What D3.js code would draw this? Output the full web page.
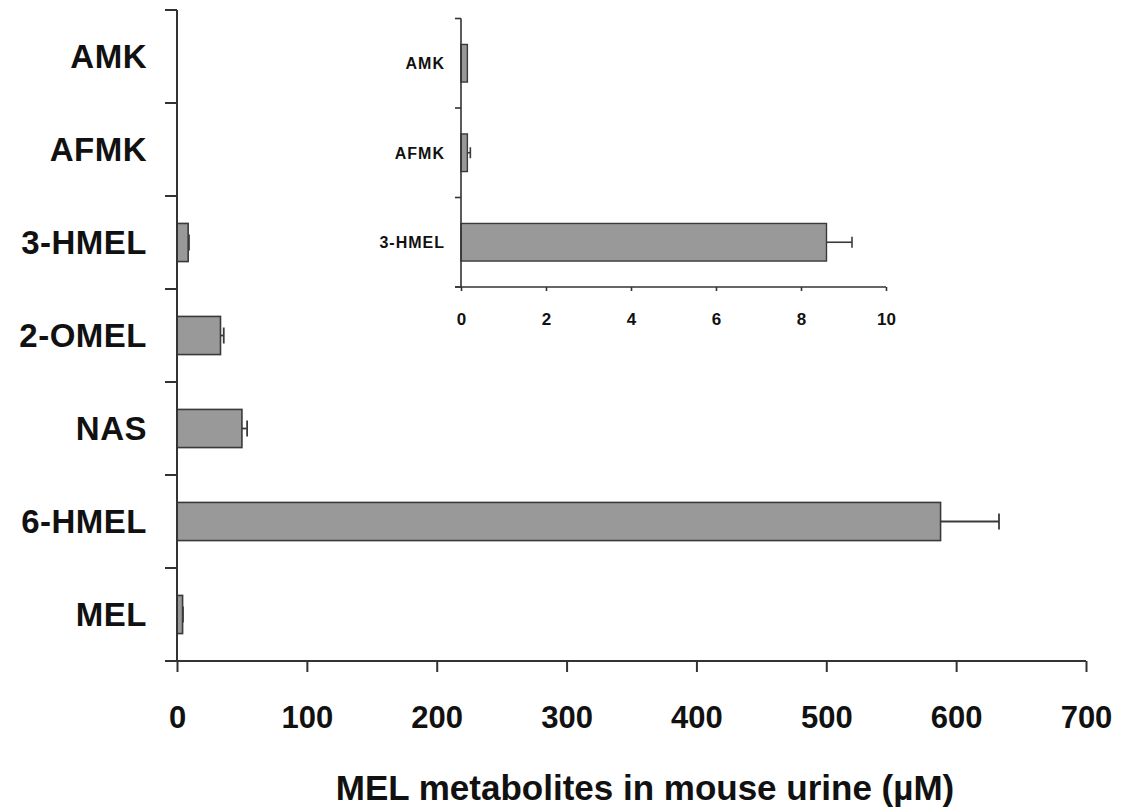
<!DOCTYPE html>
<html>
<head>
<meta charset="utf-8">
<script src="https://cdn.jsdelivr.net/npm/d3@7"></script>
<style>
  html, body { margin: 0; padding: 0; background: #fff; }
  svg { display: block; }
  text { font-family: "Liberation Sans", Arial, sans-serif; font-weight: bold; fill: #111; }
</style>
</head>
<body>
<svg id="chart" width="1127" height="809"></svg>
<script>
// ---- data (top to bottom order) ----
const categories = ["AMK", "AFMK", "3-HMEL", "2-OMEL", "NAS", "6-HMEL", "MEL"];
const values     = [0.15, 0.15, 8.6, 33.5, 50, 588, 4.3];
const errors     = [0.0, 0.07, 0.6, 2.5, 4, 45, 0.3];
const xTicks     = [0, 100, 200, 300, 400, 500, 600, 700];

const insetCategories = ["AMK", "AFMK", "3-HMEL"];
const insetValues     = [0.15, 0.15, 8.6];
const insetErrors     = [0.0, 0.07, 0.6];
const insetTicks      = [0, 2, 4, 6, 8, 10];

const xTitle = "MEL metabolites in mouse urine (\u00B5M)";

const svg = d3.select("#chart");
const barFill = "#999999", barStroke = "#3a3a3a", axisColor = "#333";

function drawPanel(opt) {
  const g = svg.append("g");
  const x = d3.scaleLinear().domain(opt.xDomain).range(opt.xRange);
  const y = d3.scaleBand().domain(opt.cats).range(opt.yRange).padding(0);
  const bh = y.bandwidth() * opt.barFrac;
  const data = opt.cats.map((c, i) => ({ c, v: opt.vals[i], e: opt.errs[i] }));

  // bars
  g.selectAll("rect.bar").data(data).join("rect")
    .attr("class", "bar")
    .attr("x", x(0))
    .attr("y", d => y(d.c) + (y.bandwidth() - bh) / 2)
    .attr("width", d => x(d.v) - x(0))
    .attr("height", bh)
    .attr("fill", barFill)
    .attr("stroke", d => (x(d.v) - x(0)) > 2 ? barStroke : "none")
    .attr("stroke-width", opt.barStrokeW);

  // error bars (positive direction)
  const eb = g.selectAll("g.err").data(data.filter(d => (x(d.v) - x(0)) > 2 && d.e > 0)).join("g").attr("class", "err");
  eb.append("line")
    .attr("x1", d => x(d.v)).attr("x2", d => x(d.v + d.e))
    .attr("y1", d => y(d.c) + y.bandwidth() / 2).attr("y2", d => y(d.c) + y.bandwidth() / 2)
    .attr("stroke", barStroke).attr("stroke-width", opt.errW);
  eb.append("line")
    .attr("x1", d => x(d.v + d.e)).attr("x2", d => x(d.v + d.e))
    .attr("y1", d => y(d.c) + y.bandwidth() / 2 - opt.cap).attr("y2", d => y(d.c) + y.bandwidth() / 2 + opt.cap)
    .attr("stroke", barStroke).attr("stroke-width", opt.errW);

  // x axis
  const xAxis = d3.axisBottom(x).tickValues(opt.xTicks).tickSize(opt.xTickLen).tickFormat(d3.format("d"));
  const xg = g.append("g").attr("transform", `translate(0,${opt.yRange[1]})`).call(xAxis);
  xg.select(".domain").attr("d", `M${opt.xRange[0] - opt.yTickLen},0H${opt.xRange[1]}`)
    .attr("stroke", axisColor).attr("stroke-width", opt.axisW);
  xg.selectAll(".tick line").attr("stroke", axisColor).attr("stroke-width", opt.axisW);
  xg.selectAll(".tick text").attr("y", opt.xLabelDy).attr("dy", 0)
    .style("font-size", opt.xFont + "px").style("font-family", "'Liberation Sans', Arial, sans-serif")
    .style("font-weight", "bold").attr("fill", "#111");

  // y axis: line + ticks at band boundaries
  g.append("line").attr("x1", x(0)).attr("x2", x(0))
    .attr("y1", opt.yRange[0]).attr("y2", opt.yRange[1])
    .attr("stroke", axisColor).attr("stroke-width", opt.axisW);
  const bounds = opt.cats.map(c => y(c)).concat([opt.yRange[1]]);
  g.selectAll("line.ytick").data(bounds).join("line").attr("class", "ytick")
    .attr("x1", x(0) - opt.yTickLen).attr("x2", x(0))
    .attr("y1", d => d).attr("y2", d => d)
    .attr("stroke", axisColor).attr("stroke-width", opt.axisW);
  g.selectAll("text.ylab").data(opt.cats).join("text").attr("class", "ylab")
    .attr("x", x(0) - opt.yLabelGap)
    .attr("y", d => y(d) + y.bandwidth() / 2)
    .attr("dy", "0.36em")
    .attr("text-anchor", "end")
    .style("font-size", opt.yFont + "px")
    .style("letter-spacing", opt.yLetter + "px")
    .text(d => d);
  return g;
}

// main panel
drawPanel({
  cats: categories, vals: values, errs: errors,
  xDomain: [0, 700], xRange: [177, 1086], yRange: [10, 661],
  xTicks: xTicks, barFrac: 0.41, barStrokeW: 1.6, errW: 1.8, cap: 8,
  axisW: 2, xTickLen: 11, yTickLen: 12, xLabelDy: 67, xFont: 31,
  yFont: 33, yLabelGap: 30, yLetter: 0.5
});

// inset panel
drawPanel({
  cats: insetCategories, vals: insetValues, errs: insetErrors,
  xDomain: [0, 10], xRange: [461, 886], yRange: [18.5, 287],
  xTicks: insetTicks, barFrac: 0.42, barStrokeW: 1.4, errW: 1.6, cap: 5.5,
  axisW: 1.6, xTickLen: 4, yTickLen: 6, xLabelDy: 38, xFont: 17,
  yFont: 16, yLabelGap: 16, yLetter: 1
});

// x axis title
svg.append("text")
  .attr("x", 645).attr("y", 800)
  .attr("text-anchor", "middle")
  .style("font-size", "35px")
  .text(xTitle);
</script>
</body>
</html>
